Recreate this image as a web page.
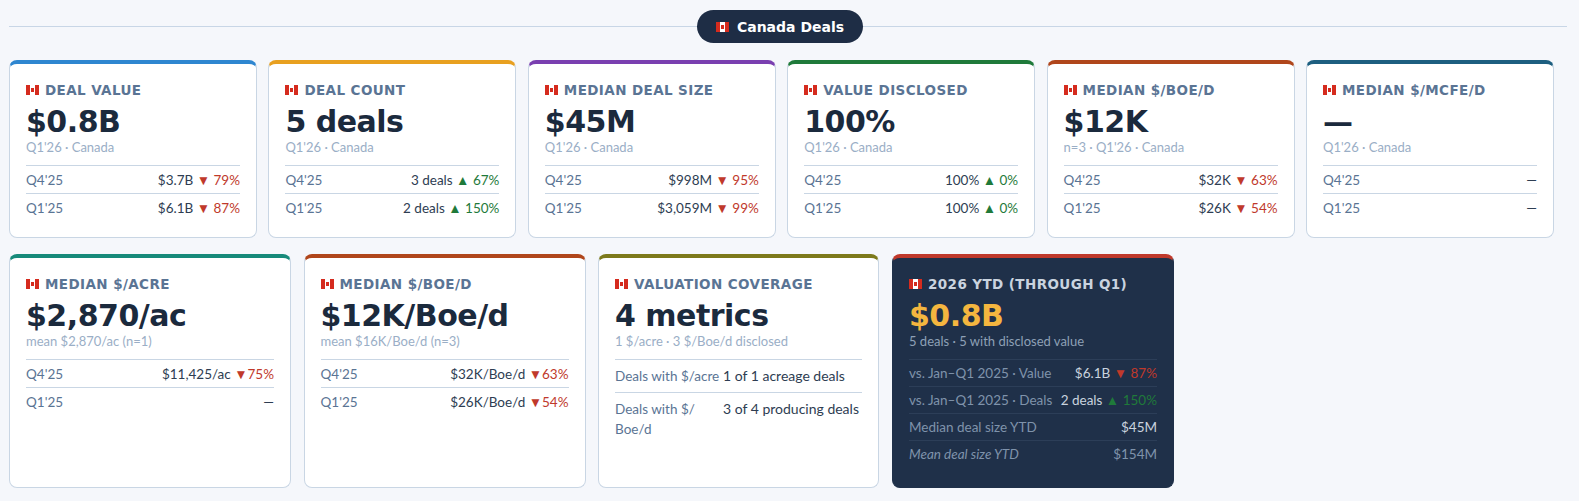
<!DOCTYPE html>
<html><head><meta charset="utf-8">
<script src="https://cdn.jsdelivr.net/npm/chart.js@4"></script>
<style>
body{margin:0;background:#f5f7fb;font-family:Lato,"Open Sans",sans-serif;width:1579px;height:501px;overflow:hidden}
.hdr{position:absolute;top:26px;left:9px;right:12px;height:1px;background:#c8d6e6}
.pill{position:absolute;top:10px;left:697px;width:166px;height:33px;border-radius:17px;background:#1e2d45;color:#fff;font:bold 14px "DejaVu Sans",sans-serif;display:flex;align-items:center;justify-content:center;gap:8px}
.card{position:absolute;background:#fff;border:1px solid #c9d6e4;border-radius:8px;box-sizing:border-box;padding:18px 16px 0 16px;border-top-width:4px}
.card.dark{background:#1f3049;border-color:#1f3049;border-top-color:#c0392b}
.ttl{font:bold 13.5px "DejaVu Sans",sans-serif;color:#5a7494;letter-spacing:.4px;display:flex;align-items:center;gap:6px}
.dark .ttl{color:#c9d3df}
.flag{display:inline-block;width:13px;height:10px;background:linear-gradient(90deg,#d52b1e 0 28%,#fff 28% 72%,#d52b1e 72%);position:relative}
.flag:after{content:"";position:absolute;left:5px;top:3px;width:3px;height:4px;background:#d52b1e}
.big{font:bold 30px "DejaVu Sans",sans-serif;color:#1b2a3d;margin-top:8px;line-height:32px;letter-spacing:-.5px}
.dark .big{color:#f4b63f}
.sub{font-size:13px;color:#9aaec6;margin-top:1px;margin-bottom:10px}
.dark .sub{color:#8ea0b6}
.row{display:flex;justify-content:space-between;align-items:center;border-top:1px solid #c9d6e4;height:27px;font-size:13.5px;color:#5a7494}
.row .v{color:#2e3d52}
.dark .row{border-top-color:#2c3e58;height:26px;color:#7f93ab}
.dark .row .v{color:#c9d3df}
.dn{color:#c0392b}.up{color:#1f7a3a}
.cov{display:flex;border-top:1px solid #c9d6e4;padding:6px 0;font-size:13.5px;color:#5a7494;line-height:20px}
.cov div:first-child{width:108px}.cov div:last-child{color:#2e3d52;font-size:14px}
</style></head><body>
<div class="hdr"></div>
<div class="pill"><span class="flag"></span>Canada Deals</div>
<div id="cards"></div>
<script>
const row1Titles=['DEAL VALUE','DEAL COUNT','MEDIAN DEAL SIZE','VALUE DISCLOSED','MEDIAN $/BOE/D','MEDIAN $/MCFE/D'];
const row1Colors=['#2e86d0','#e8a020','#7a3fb0','#1f7a3a','#b0461b','#1d5f80'];
const row1Values=['$0.8B','5 deals','$45M','100%','$12K','—'];
const row1Subs=['Q1\'26 · Canada','Q1\'26 · Canada','Q1\'26 · Canada','Q1\'26 · Canada','n=3 · Q1\'26 · Canada','Q1\'26 · Canada'];
const row1Q4=['$3.7B','3 deals','$998M','100%','$32K','—'];
const row1Q4Chg=['▼ 79%','▲ 67%','▼ 95%','▲ 0%','▼ 63%',''];
const row1Q1=['$6.1B','2 deals','$3,059M','100%','$26K','—'];
const row1Q1Chg=['▼ 87%','▲ 150%','▼ 99%','▲ 0%','▼ 54%',''];
const row2Titles=['MEDIAN $/ACRE','MEDIAN $/BOE/D'];
const row2Colors=['#178a7a','#b0461b'];
const row2Values=['$2,870/ac','$12K/Boe/d'];
const row2Subs=['mean $2,870/ac (n=1)','mean $16K/Boe/d (n=3)'];
const row2Q4=['$11,425/ac','$32K/Boe/d'];
const row2Q4Chg=['▼75%','▼63%'];
const row2Q1=['—','$26K/Boe/d'];
const row2Q1Chg=['','▼54%'];
const ytdLabels=['vs. Jan–Q1 2025 · Value','vs. Jan–Q1 2025 · Deals','Median deal size YTD','Mean deal size YTD'];
const ytdValues=['$6.1B','2 deals','$45M','$154M'];
const ytdChg=['▼ 87%','▲ 150%','',''];

const el=document.getElementById('cards');
const chg=c=>c?` <span class="${c[0]==='▼'?'dn':'up'}">${c}</span>`:'';
const row=(l,v,c)=>`<div class="row"><span>${l}</span><span class="v">${v}${chg(c)}</span></div>`;
function card(x,y,w,h,color,html,cls=''){el.insertAdjacentHTML('beforeend',`<div class="card ${cls}" style="left:${x}px;top:${y}px;width:${w}px;height:${h}px;border-top-color:${color}">${html}</div>`);}
row1Titles.forEach((t,i)=>card(9+i*259.4,60,248,178,row1Colors[i],
 `<div class="ttl"><span class="flag"></span>${t}</div><div class="big">${row1Values[i]}</div><div class="sub">${row1Subs[i]}</div>${row('Q4\'25',row1Q4[i],row1Q4Chg[i])}${row('Q1\'25',row1Q1[i],row1Q1Chg[i])}`));
row2Titles.forEach((t,i)=>card(9+i*294.5,254,282,234,row2Colors[i],
 `<div class="ttl"><span class="flag"></span>${t}</div><div class="big">${row2Values[i]}</div><div class="sub">${row2Subs[i]}</div>${row('Q4\'25',row2Q4[i],row2Q4Chg[i])}${row('Q1\'25',row2Q1[i],row2Q1Chg[i])}`));
card(598,254,281,234,'#7d7a1c',`<div class="ttl"><span class="flag"></span>VALUATION COVERAGE</div><div class="big">4 metrics</div><div class="sub">1 $/acre · 3 $/Boe/d disclosed</div>
<div class="cov"><div>Deals with $/acre</div><div>1 of 1 acreage deals</div></div><div class="cov"><div>Deals with $/ Boe/d</div><div>3 of 4 producing deals</div></div>`);
card(892,254,282,234,'#c0392b',`<div class="ttl"><span class="flag"></span>2026 YTD (THROUGH Q1)</div><div class="big">$0.8B</div><div class="sub">5 deals · 5 with disclosed value</div>`+
 ytdLabels.map((l,i)=>i===3?`<div class="row"><span style="font-style:italic">${l}</span><span style="color:#7f93ab">${ytdValues[i]}</span></div>`:row(l,ytdValues[i],ytdChg[i])).join(''),'dark');
</script></body></html>
